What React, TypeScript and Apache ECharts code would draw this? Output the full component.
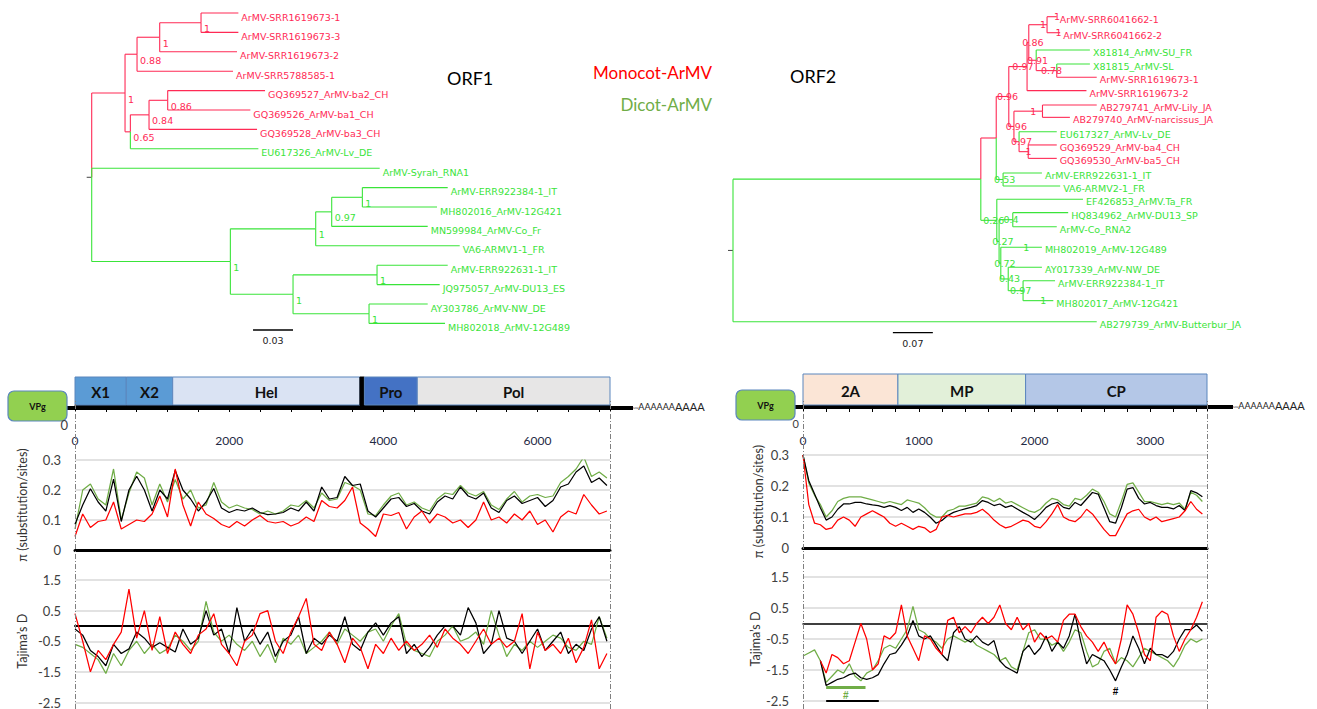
import React, { useEffect, useRef } from 'react';
import * as echarts from 'echarts';

// ---------------- colours ----------------
const TREE_RED = '#ff2a55';
const TREE_GREEN = '#3ae43a';
const LINE_BLACK = '#000000';
const LINE_GREEN = '#70ad47';
const LINE_RED = '#ff0000';

// ---------------- ORF1 tree: [name, parent, depth(subst/site), clade, support] ----------------
const orf1Nodes: [string, string, number, string, string][] = [
  ['root', '', 0, 'g', ''],
  ['A', 'root', 0.025, 'r', '1'],
  ['B', 'A', 0.034, 'r', '0.88'],
  ['C', 'B', 0.051, 'r', '1'],
  ['D', 'C', 0.082, 'r', '1'],
  ['ArMV-SRR1619673-1', 'D', 0.110, 'r', ''],
  ['ArMV-SRR1619673-3', 'D', 0.110, 'r', ''],
  ['ArMV-SRR1619673-2', 'C', 0.109, 'r', ''],
  ['ArMV-SRR5788585-1', 'B', 0.106, 'r', ''],
  ['E', 'A', 0.029, 'r', '0.65'],
  ['F', 'E', 0.043, 'r', '0.84'],
  ['G', 'F', 0.057, 'r', '0.86'],
  ['GQ369527_ArMV-ba2_CH', 'G', 0.130, 'r', ''],
  ['GQ369526_ArMV-ba1_CH', 'G', 0.119, 'r', ''],
  ['GQ369528_ArMV-ba3_CH', 'F', 0.124, 'r', ''],
  ['EU617326_ArMV-Lv_DE', 'E', 0.125, 'g', ''],
  ['ArMV-Syrah_RNA1', 'root', 0.216, 'g', ''],
  ['H', 'root', 0.104, 'g', '1'],
  ['I', 'H', 0.168, 'g', '1'],
  ['J', 'I', 0.180, 'g', '0.97'],
  ['K', 'J', 0.203, 'g', '1'],
  ['ArMV-ERR922384-1_IT', 'K', 0.267, 'g', ''],
  ['MH802016_ArMV-12G421', 'K', 0.259, 'g', ''],
  ['MN599984_ArMV-Co_Fr', 'J', 0.252, 'g', ''],
  ['VA6-ARMV1-1_FR', 'I', 0.276, 'g', ''],
  ['L', 'H', 0.151, 'g', '1'],
  ['M', 'L', 0.214, 'g', '1'],
  ['ArMV-ERR922631-1_IT', 'M', 0.267, 'g', ''],
  ['JQ975057_ArMV-DU13_ES', 'M', 0.261, 'g', ''],
  ['N', 'L', 0.208, 'g', '1'],
  ['AY303786_ArMV-NW_DE', 'N', 0.252, 'g', ''],
  ['MH802018_ArMV-12G489', 'N', 0.265, 'g', ''],
];
const orf1LeafRows = [0, 1, 2, 3, 4, 5, 6, 7, 8, 9, 10, 11, 12, 13, 14, 15, 16];
const orf1ScaleBar = { len: 0.03, label: '0.03' };

// ---------------- ORF2 tree ----------------
const orf2Nodes: [string, string, number, string, string][] = [
  ['root', '', 0, 'g', ''],
  ['P', 'root', 0.434, 'g', ''],
  ['R', 'P', 0.461, 'r', ''],
  ['S', 'R', 0.483, 'r', '0.96'],
  ['W', 'S', 0.515, 'r', '0.97'],
  ['Wa', 'W', 0.518, 'r', '0.86'],
  ['Y', 'Wa', 0.550, 'r', '1'],
  ['ArMV-SRR6041662-1', 'Y', 0.567, 'r', '1'],
  ['ArMV-SRR6041662-2', 'Y', 0.573, 'r', '1'],
  ['Z', 'Wa', 0.531, 'r', '0.91'],
  ['X81814_ArMV-SU_FR', 'Z', 0.625, 'g', ''],
  ['Z2', 'Z', 0.567, 'r', '0.78'],
  ['X81815_ArMV-SL', 'Z2', 0.625, 'g', ''],
  ['ArMV-SRR1619673-1', 'Z2', 0.637, 'r', ''],
  ['ArMV-SRR1619673-2', 'W', 0.619, 'r', ''],
  ['X', 'S', 0.492, 'r', '0.96'],
  ['AB', 'X', 0.542, 'r', '1'],
  ['AB279741_ArMV-Lily_JA', 'AB', 0.637, 'r', ''],
  ['AB279740_ArMV-narcissus_JA', 'AB', 0.590, 'r', ''],
  ['X2', 'X', 0.501, 'r', '0.97'],
  ['EU617327_ArMV-Lv_DE', 'X2', 0.567, 'g', ''],
  ['GQ', 'X2', 0.517, 'r', '1'],
  ['GQ369529_ArMV-ba4_CH', 'GQ', 0.567, 'r', ''],
  ['GQ369530_ArMV-ba5_CH', 'GQ', 0.567, 'r', ''],
  ['U', 'R', 0.473, 'g', '0.53'],
  ['ArMV-ERR922631-1_IT', 'U', 0.541, 'g', ''],
  ['VA6-ARMV2-1_FR', 'U', 0.573, 'g', ''],
  ['V', 'P', 0.462, 'g', '0.26'],
  ['EF426853_ArMV.Ta_FR', 'V', 0.613, 'g', ''],
  ['T0', 'V', 0.466, 'g', '0.27'],
  ['HQ', 'T0', 0.490, 'g', '0.4'],
  ['HQ834962_ArMV-DU13_SP', 'HQ', 0.587, 'g', ''],
  ['ArMV-Co_RNA2', 'HQ', 0.567, 'g', ''],
  ['T1', 'T0', 0.469, 'g', '0.72'],
  ['MH802019_ArMV-12G489', 'T1', 0.541, 'g', '1'],
  ['T2', 'T1', 0.482, 'g', '0.43'],
  ['AY017339_ArMV-NW_DE', 'T2', 0.541, 'g', ''],
  ['T3', 'T2', 0.508, 'g', '0.97'],
  ['ArMV-ERR922384-1_IT', 'T3', 0.564, 'g', ''],
  ['MH802017_ArMV-12G421', 'T3', 0.561, 'g', '1'],
  ['AB279739_ArMV-Butterbur_JA', 'root', 0.637, 'g', ''],
];
const orf2LeafRows = [0, 1.05, 2.18, 3.10, 3.97, 4.85, 5.79, 6.60, 7.54, 8.41, 9.29, 10.25, 11.10, 11.97, 12.85, 13.77, 15.12, 16.43, 17.31, 18.62, 20.0];
const orf2ScaleBar = { len: 0.07, label: '0.07' };

// ---------------- genome maps ----------------
const orf1Length = 6940;
const orf1Domains = ['X1', 'X2', 'Hel', '', 'Pro', 'Pol'];
const orf1DomStart = [0, 665, 1267, 3696, 3754, 4440];
const orf1DomEnd = [665, 1267, 3696, 3754, 4440, 6940];
const orf1DomFill = ['#5b9bd5', '#5b9bd5', '#dae3f3', '#000000', '#4472c4', '#e7e6e6'];

const orf2Length = 3490;
const orf2Domains = ['2A', 'MP', 'CP'];
const orf2DomStart = [0, 820, 1923];
const orf2DomEnd = [820, 1923, 3490];
const orf2DomFill = ['#fbe5d6', '#e2f0d9', '#b4c7e7'];

// ---------------- sliding window values ----------------
const orf1Step = 100;
const orf1PiBlack = [
  0.086, 0.15, 0.204, 0.16, 0.13, 0.236, 0.095, 0.2, 0.246, 0.2,
  0.13, 0.2, 0.17, 0.265, 0.2, 0.17, 0.13, 0.16, 0.205, 0.14,
  0.125, 0.135, 0.13, 0.14, 0.125, 0.118, 0.12, 0.125, 0.14, 0.13,
  0.16, 0.13, 0.21, 0.17, 0.175, 0.245, 0.215, 0.22, 0.13, 0.11,
  0.14, 0.17, 0.175, 0.145, 0.155, 0.13, 0.12, 0.16, 0.18, 0.17,
  0.21, 0.18, 0.17, 0.19, 0.14, 0.125, 0.165, 0.18, 0.155, 0.165,
  0.175, 0.145, 0.165, 0.21, 0.22, 0.26, 0.28, 0.225, 0.24, 0.215,
];
const orf1PiGreen = [
  0.07, 0.2, 0.22, 0.17, 0.15, 0.27, 0.1, 0.19, 0.26, 0.24,
  0.15, 0.22, 0.16, 0.235, 0.17, 0.2, 0.14, 0.15, 0.225, 0.16,
  0.14, 0.15, 0.14, 0.135, 0.12, 0.13, 0.12, 0.13, 0.15, 0.145,
  0.165, 0.14, 0.19, 0.165, 0.17, 0.225, 0.215, 0.2, 0.12, 0.115,
  0.15, 0.18, 0.19, 0.15, 0.16, 0.14, 0.13, 0.17, 0.19, 0.185,
  0.215, 0.19, 0.18, 0.195, 0.15, 0.135, 0.17, 0.195, 0.16, 0.18,
  0.185, 0.175, 0.18, 0.225, 0.245, 0.27, 0.31, 0.245, 0.26, 0.24,
];
const orf1PiRed = [
  0.045, 0.12, 0.075, 0.095, 0.1, 0.16, 0.07, 0.085, 0.1, 0.095,
  0.12, 0.18, 0.11, 0.27, 0.15, 0.08, 0.16, 0.12, 0.105, 0.085,
  0.075, 0.095, 0.08, 0.1, 0.115, 0.095, 0.09, 0.095, 0.08, 0.09,
  0.11, 0.095, 0.165, 0.145, 0.14, 0.165, 0.21, 0.09, 0.07, 0.045,
  0.12, 0.115, 0.125, 0.07, 0.11, 0.13, 0.09, 0.12, 0.11, 0.09,
  0.1, 0.075, 0.1, 0.16, 0.1, 0.11, 0.09, 0.12, 0.1, 0.13,
  0.085, 0.1, 0.06, 0.11, 0.13, 0.12, 0.185, 0.15, 0.12, 0.13,
];
const orf1TajBlack = [
  -0.1, -0.3, -0.8, -1.0, -1.3, -0.6, -0.9, -0.75, -0.2, -0.4,
  -0.7, -0.55, -0.7, -0.85, -0.1, -0.6, -0.4, 0.5, -0.3, -0.1,
  -0.9, 0.6, -0.5, -0.1, -0.6, -0.2, -1.0, -0.5, -0.3, 0.3,
  -0.9, -0.4, -0.6, -0.3, -0.5, 0.3, -0.6, -0.8, -0.2, 0.1,
  -0.3, 0.1, 0.3, -0.9, -0.6, -1.0, -0.7, -0.3, 0.0, 0.0,
  -0.3, 0.6, 0.1, -0.9, -0.6, 0.5, -0.4, -0.5, -0.9, -0.5,
  -0.1, -0.8, -0.5, -0.2, -0.9, -0.6, -0.8, -0.1, 0.3, -0.5,
];
const orf1TajGreen = [
  -0.6, -0.7, -0.9, -1.1, -1.55, -0.9, -1.3, -0.8, -0.5, -0.9,
  -0.6, -0.9, -0.75, -0.3, -0.5, -0.8, -0.5, 0.8, -0.2, -0.5,
  -0.3, -0.6, -0.8, -0.5, -1.0, -0.6, -1.2, -0.4, -0.6, -0.3,
  -0.9, -0.7, -0.5, -0.2, -0.6, -0.1, -0.3, -0.5, -0.2, -0.1,
  -0.5, 0.0, 0.4, -0.6, -0.8, -0.9, -1.0, -0.5, -0.3, 0.0,
  -0.5, -0.4, -0.2, -0.6, 0.5, -0.3, -1.0, -0.6, -0.8, -0.5,
  -0.7, -0.5, -0.3, -0.4, -0.7, -0.8, -0.5, -0.6, 0.3, -0.4,
];
const orf1TajRed = [
  0.4, -0.5, -1.5, -0.8, -1.1, -0.6, -0.2, 1.2, -0.4, 0.5,
  -0.8, 0.3, -0.9, -0.2, -0.6, -0.9, -0.3, -0.1, 0.4, -0.6,
  -0.9, -1.3, -0.5, -0.3, 0.4, 0.5, -0.5, -0.9, -0.2, 0.3,
  0.9, -0.6, -0.8, -0.2, -0.6, -1.2, -0.4, -0.7, -1.4, -0.6,
  -0.9, -0.4, -0.8, -0.5, -0.8, -0.6, -0.3, -0.7, -0.1, -0.4,
  -0.6, -0.9, -0.5, -0.1, -0.6, -0.4, -0.7, -0.5, 0.4, -1.4,
  -0.2, -0.8, -0.6, -0.9, -0.4, -1.2, -0.7, 0.2, -1.4, -0.9,
];

const orf2Step = 50;
const orf2PiBlack = [
  0.3, 0.217, 0.174, 0.13, 0.09, 0.1, 0.125, 0.142, 0.142, 0.147,
  0.147, 0.142, 0.139, 0.137, 0.131, 0.137, 0.131, 0.121, 0.131, 0.115,
  0.126, 0.115, 0.099, 0.08, 0.089, 0.105, 0.115, 0.121, 0.126, 0.131,
  0.137, 0.153, 0.147, 0.137, 0.142, 0.131, 0.137, 0.126, 0.115, 0.105,
  0.092, 0.11, 0.131, 0.142, 0.147, 0.131, 0.126, 0.147, 0.137, 0.158,
  0.179, 0.174, 0.13, 0.085, 0.08, 0.13, 0.19, 0.195, 0.16, 0.142,
  0.147, 0.137, 0.131, 0.131, 0.126, 0.137, 0.121, 0.185, 0.178, 0.165,
];
const orf2PiGreen = [
  0.3, 0.21, 0.17, 0.14, 0.1, 0.12, 0.15, 0.16, 0.165, 0.165,
  0.165, 0.16, 0.155, 0.15, 0.145, 0.15, 0.145, 0.14, 0.155, 0.15,
  0.145, 0.13, 0.11, 0.1, 0.1, 0.12, 0.125, 0.135, 0.135, 0.14,
  0.145, 0.165, 0.16, 0.15, 0.16, 0.145, 0.15, 0.14, 0.13, 0.12,
  0.115, 0.125, 0.145, 0.16, 0.155, 0.14, 0.135, 0.16, 0.155, 0.17,
  0.19, 0.18, 0.15, 0.11, 0.1, 0.15, 0.205, 0.21, 0.18, 0.15,
  0.15, 0.145, 0.14, 0.145, 0.14, 0.145, 0.125, 0.18, 0.17, 0.15,
];
const orf2PiRed = [
  0.3, 0.14, 0.08, 0.075, 0.06, 0.065, 0.09, 0.1, 0.09, 0.07,
  0.1, 0.11, 0.12, 0.11, 0.1, 0.08, 0.07, 0.08, 0.07, 0.06,
  0.07, 0.065, 0.05, 0.06, 0.1, 0.105, 0.1, 0.105, 0.11, 0.11,
  0.115, 0.125, 0.11, 0.09, 0.075, 0.065, 0.07, 0.08, 0.09, 0.085,
  0.07, 0.065, 0.085, 0.11, 0.14, 0.1, 0.09, 0.085, 0.1, 0.125,
  0.11, 0.085, 0.06, 0.04, 0.04, 0.075, 0.11, 0.12, 0.125, 0.1,
  0.09, 0.1, 0.085, 0.09, 0.095, 0.1, 0.12, 0.15, 0.125, 0.11,
];
const orf2TajBlack = [
  null, null, null, -1.2, -2.0, -1.9, -1.8, -1.75, -1.65, -1.6,
  -1.75, -1.8, -1.75, -1.65, -1.3, -1.0, -0.95, -0.7, -0.4, 0.1,
  -0.4, -0.5, -0.4, -0.7, -1.0, -1.2, -0.3, -0.1, -0.5, -0.6,
  -0.4, -0.6, -0.7, -0.55, -1.2, -1.4, -1.5, -1.6, -0.9, -0.7,
  -1.0, -0.8, -0.4, -0.9, -0.6, -0.8, -0.4, 0.3, -0.6, -1.3,
  -1.0, -1.1, -1.2, -1.5, -1.85, -1.4, -1.0, -0.4, -0.8, -1.3,
  -0.8, -1.0, -1.0, -1.1, -0.9, -0.5, -0.2, -0.2, -0.05, -0.25,
];
const orf2TajGreen = [
  -1.05, -0.95, -0.85, -1.2, -1.9, -1.7, -1.5, -1.6, -1.3, -1.7,
  -1.85, -1.6, -1.5, -1.2, -0.8, -0.7, -0.8, -0.5, -0.2, 0.55,
  -0.2, -0.3, -0.5, -0.6, -0.8, -0.5, -0.4, -0.5, -0.6, -0.5,
  -0.7, -0.8, -0.9, -1.0, -1.2, -1.1, -1.4, -1.5, -0.9, -0.3,
  -0.2, -0.5, -0.5, -0.7, -0.6, -0.9, -0.6, -0.2, -0.3, -0.9,
  -1.4, -1.3, -0.9, -0.8, -1.3, -1.1, -1.2, -1.4, -1.1, -0.8,
  -0.9, -1.0, -1.1, -1.2, -1.4, -1.1, -0.7, -0.5, -0.6, -0.5,
];
const orf2TajRed = [
  null, null, null, -1.2, -1.6, -1.0, -1.1, -1.3, -1.2, -0.6,
  0.0, -0.5, -1.5, -1.3, -0.4, -0.5, -0.3, 0.6, -0.4, -0.8,
  -1.2, -0.4, -0.5, -0.8, -1.0, 0.1, 0.2, -0.3, -0.1, -0.3,
  0.0, 0.2, 0.0, 0.2, 0.6, 0.0, -0.2, 0.2, -0.2, 0.0,
  -0.6, -0.3, -0.5, -0.4, -0.6, 0.1, 0.3, 0.3, -0.1, -0.4,
  -0.6, -0.9, -0.6, -1.0, -1.3, -0.5, 0.6, 0.3, -0.3, -1.0,
  -1.2, 0.2, 0.4, 0.3, -0.4, -0.9, -0.5, -0.2, 0.2, 0.7,
];
// significance bars (#) on ORF2 Tajima's D
const orf2SigGreen = { from: 200, to: 540, level: -2.05 };
const orf2SigBlack = { from: 200, to: 655, level: -2.5 };
const orf2SigBlackMark = { at: 2700, level: -2.2 };

// ---------------- helpers ----------------
type TNode = { name: string; leaf: boolean; root: boolean; depth: number; pDepth: number; y: number; pY: number; col: string; sup: string };

function layoutTree(nodes: [string, string, number, string, string][], leafRows: number[]): TNode[] {
  const idx = new Map<string, number>();
  nodes.forEach((n, i) => idx.set(n[0], i));
  const children: number[][] = nodes.map(() => []);
  nodes.forEach((n, i) => { if (n[1]) children[idx.get(n[1]) as number].push(i); });
  const y = new Array(nodes.length).fill(0);
  let k = 0;
  nodes.forEach((_, i) => { if (children[i].length === 0) y[i] = leafRows[k++]; });
  const calc = (i: number): number => {
    if (children[i].length === 0) return y[i];
    const ys = children[i].map(calc);
    y[i] = (ys[0] + ys[ys.length - 1]) / 2;
    return y[i];
  };
  calc(0);
  return nodes.map((n, i) => {
    const p = n[1] ? (idx.get(n[1]) as number) : i;
    return { name: n[0], leaf: children[i].length === 0, root: !n[1], depth: n[2], pDepth: nodes[p][2], y: y[i], pY: y[p], col: n[3], sup: n[4] };
  });
}

const TREE_FONT = '9.5px "DejaVu Sans"';

function txt(text: string, x: number, y: number, fill: string, font: string, align = 'left', valign = 'middle') {
  return { type: 'text', x, y, style: { text, fill, font, align, verticalAlign: valign, textAlign: align, textVerticalAlign: valign } };
}

function treeSeries(layout: TNode[], gi: number, mode: number) {
  return {
    type: 'custom', xAxisIndex: gi, yAxisIndex: gi, clip: false, silent: true, z: 5,
    data: layout.map((n) => [n.pDepth, n.depth, n.pY, n.y]),
    renderItem: (params: any, api: any) => {
      const n = layout[params.dataIndex];
      const col = n.col === 'r' ? TREE_RED : TREE_GREEN;
      const a = api.coord([api.value(0), api.value(2)]);
      const b = api.coord([api.value(0), api.value(3)]);
      const c = api.coord([api.value(1), api.value(3)]);
      const ch: any[] = [];
      if (n.root) {
        ch.push({ type: 'line', shape: { x1: c[0] - 5, y1: c[1], x2: c[0], y2: c[1] }, style: { stroke: '#444', lineWidth: 1 } });
        return { type: 'group', children: ch };
      }
      ch.push({ type: 'line', shape: { x1: a[0], y1: a[1], x2: b[0], y2: b[1] }, style: { stroke: col, lineWidth: 1.1 } });
      ch.push({ type: 'line', shape: { x1: b[0], y1: b[1], x2: c[0], y2: c[1] }, style: { stroke: col, lineWidth: 1.1 } });
      if (n.leaf) ch.push(txt(n.name, c[0] + 3, c[1] + (mode === 1 ? 4 : 2.5), col, TREE_FONT));
      if (n.sup) {
        if (mode === 1) ch.push(txt(n.sup, c[0] + 3, c[1] + 1, col, TREE_FONT, 'left', 'top'));
        else ch.push(txt(n.sup, (a[0] + c[0]) / 2 + 5, c[1], col, TREE_FONT, 'center', 'middle'));
      }
      return { type: 'group', children: ch };
    },
  };
}

function scaleSeries(gi: number, bar: { len: number; label: string }, x0: number, row: number) {
  return {
    type: 'custom', xAxisIndex: gi, yAxisIndex: gi, clip: false, silent: true,
    data: [[x0, row, bar.len]],
    renderItem: (_p: any, api: any) => {
      const s = api.coord([api.value(0), api.value(1)]);
      const e = api.coord([api.value(0) + api.value(2), api.value(1)]);
      return {
        type: 'group', children: [
          { type: 'line', shape: { x1: s[0], y1: s[1], x2: e[0], y2: e[1] }, style: { stroke: '#000', lineWidth: 1.3 } },
          txt(bar.label, (s[0] + e[0]) / 2, s[1] + 11, '#222', '9.5px "DejaVu Sans"', 'center', 'middle'),
        ],
      };
    },
  };
}

function domainSeries(gi: number, names: string[], starts: number[], ends: number[], fills: string[]) {
  return {
    type: 'custom', xAxisIndex: gi, yAxisIndex: gi, clip: false, silent: true, z: 4,
    data: names.map((_, i) => [starts[i], ends[i]]),
    renderItem: (params: any, api: any) => {
      const i = params.dataIndex;
      const p0 = api.coord([api.value(0), 1]);
      const p1 = api.coord([api.value(1), 0]);
      return {
        type: 'group', children: [
          { type: 'rect', shape: { x: p0[0], y: p0[1], width: p1[0] - p0[0], height: p1[1] - p0[1] }, style: { fill: fills[i], stroke: names[i] ? '#5b86bd' : '#000', lineWidth: 1 } },
          txt(names[i], (p0[0] + p1[0]) / 2, (p0[1] + p1[1]) / 2 + 1, '#111', 'bold 15px Lato', 'center', 'middle'),
        ],
      };
    },
  };
}

function lineSeries(vals: (number | null)[], step: number, color: string, gi: number, z: number, extra: any = {}) {
  return {
    type: 'line', xAxisIndex: gi, yAxisIndex: gi, silent: true, z,
    data: vals.map((v, i) => [i * step, v === null ? '-' : v]),
    symbol: 'none', showSymbol: false, connectNulls: false,
    lineStyle: { color, width: 1.25 }, itemStyle: { color },
    ...extra,
  };
}

function frameSeries(gi: number, len: number) {
  return {
    type: 'line', xAxisIndex: gi, yAxisIndex: gi, silent: true, data: [[0, 0]], symbol: 'none',
    lineStyle: { opacity: 0 },
    markLine: {
      silent: true, symbol: ['none', 'none'], label: { show: false },
      lineStyle: { type: [5, 2, 1, 2], color: '#808080', width: 1 },
      data: [{ xAxis: 0 }, { xAxis: len }],
    },
  };
}

const AXIS_TXT = { fontFamily: 'Lato', fontSize: 13, color: '#404040' };

function buildOption() {
  const t1 = layoutTree(orf1Nodes, orf1LeafRows);
  const t2 = layoutTree(orf2Nodes, orf2LeafRows);

  const grids = [
    { left: 91.7, top: 13, width: 400, height: 310.4 }, // 0 tree1
    { left: 733, top: 16.7, width: 399.7, height: 305 }, // 1 tree2
    { left: 75, top: 377, width: 535, height: 28 }, // 2 mapL
    { left: 75, top: 460, width: 535, height: 90 }, // 3 piL
    { left: 75, top: 580, width: 535, height: 123 }, // 4 tajL
    { left: 75, top: 400, width: 535, height: 309 }, // 5 frameL
    { left: 803, top: 374, width: 404, height: 31 }, // 6 mapR
    { left: 803, top: 455, width: 404, height: 93 }, // 7 piR
    { left: 803, top: 577, width: 404, height: 124 }, // 8 tajR
    { left: 803, top: 400, width: 404, height: 309 }, // 9 frameR
  ];

  const hidden = (gi: number, min: number, max: number, inverse = false) => ({ type: 'value', gridIndex: gi, min, max, inverse, show: false });
  const mapAxis = (gi: number, len: number, interval: number, labelEvery: number) => ({
    type: 'value', gridIndex: gi, min: 0, max: len, interval, position: 'bottom', offset: 20,
    axisLine: { show: true, lineStyle: { color: '#000', width: 1 } },
    axisTick: { show: true, length: 7, lineStyle: { color: '#000', width: 1 } },
    axisLabel: { formatter: (v: number) => (v % labelEvery === 0 ? String(v) : ''), fontFamily: 'Lato', fontSize: 12, color: '#1f2a44', margin: 9 },
    splitLine: { show: false },
  });
  const lineAxis = (gi: number, len: number, width: number, onZero: boolean) => ({
    type: 'value', gridIndex: gi, min: 0, max: len,
    axisLine: { show: true, onZero, lineStyle: { color: '#000', width } },
    axisTick: { show: false }, axisLabel: { show: false }, splitLine: { show: false },
  });
  const piY = (gi: number, gap: number) => ({
    type: 'value', gridIndex: gi, min: 0, max: 0.3, interval: 0.1,
    name: 'π (substitution/sites)', nameLocation: 'middle', nameRotate: 90, nameGap: gap,
    nameTextStyle: { fontFamily: 'Lato', fontSize: 12.5, color: '#333' },
    axisLine: { show: false }, axisTick: { show: false },
    axisLabel: { ...AXIS_TXT, margin: 14, formatter: (v: number) => (Math.abs(v) < 1e-9 ? '0' : (Math.round(v * 10) / 10).toFixed(1)) },
    splitLine: { show: true, lineStyle: { color: '#d9d9d9', width: 1.5 } },
  });
  const tajY = (gi: number, gap: number) => ({
    type: 'value', gridIndex: gi, min: -2.5, max: 1.5, interval: 1,
    name: 'Tajima’s D', nameLocation: 'middle', nameRotate: 90, nameGap: gap,
    nameTextStyle: { fontFamily: 'Lato', fontSize: 12.5, color: '#333' },
    axisLine: { show: false }, axisTick: { show: false },
    axisLabel: { ...AXIS_TXT, margin: 14, formatter: (v: number) => (Math.round(v * 10) / 10).toFixed(1) },
    splitLine: { show: true, lineStyle: { color: '#d9d9d9', width: 1.5 } },
  });

  const xAxis = [
    hidden(0, 0, 0.3), hidden(1, 0, 0.7),
    mapAxis(2, orf1Length, 400, 2000), lineAxis(3, orf1Length, 3, false), lineAxis(4, orf1Length, 2, true), hidden(5, 0, orf1Length),
    mapAxis(6, orf2Length, 200, 1000), lineAxis(7, orf2Length, 3, false), lineAxis(8, orf2Length, 1.5, true), hidden(9, 0, orf2Length),
  ];
  const yAxis = [
    hidden(0, 0, 16, true), hidden(1, 0, 20, true),
    hidden(2, 0, 1), piY(3, 46), tajY(4, 46), hidden(5, 0, 1),
    hidden(6, 0, 1), piY(7, 38), tajY(8, 38), hidden(9, 0, 1),
  ];

  const series: any[] = [
    treeSeries(t1, 0, 1),
    treeSeries(t2, 1, 2),
    scaleSeries(0, orf1ScaleBar, 0.121, 16.34),
    scaleSeries(1, orf2ScaleBar, 0.28, 20.72),
    domainSeries(2, orf1Domains, orf1DomStart, orf1DomEnd, orf1DomFill),
    domainSeries(6, orf2Domains, orf2DomStart, orf2DomEnd, orf2DomFill),
    frameSeries(5, orf1Length),
    frameSeries(9, orf2Length),
    lineSeries(orf1PiGreen, orf1Step, LINE_GREEN, 3, 2),
    lineSeries(orf1PiBlack, orf1Step, LINE_BLACK, 3, 3),
    lineSeries(orf1PiRed, orf1Step, LINE_RED, 3, 4),
    lineSeries(orf1TajGreen, orf1Step, LINE_GREEN, 4, 2),
    lineSeries(orf1TajBlack, orf1Step, LINE_BLACK, 4, 3),
    lineSeries(orf1TajRed, orf1Step, LINE_RED, 4, 4),
    lineSeries(orf2PiGreen, orf2Step, LINE_GREEN, 7, 2),
    lineSeries(orf2PiBlack, orf2Step, LINE_BLACK, 7, 3),
    lineSeries(orf2PiRed, orf2Step, LINE_RED, 7, 4),
    lineSeries(orf2TajGreen, orf2Step, LINE_GREEN, 8, 2, {
      markLine: {
        silent: true, symbol: ['none', 'none'], label: { show: false },
        lineStyle: { color: LINE_GREEN, width: 3, type: 'solid' },
        data: [[{ coord: [orf2SigGreen.from, orf2SigGreen.level] }, { coord: [orf2SigGreen.to, orf2SigGreen.level] }]],
      },
      markPoint: {
        silent: true, symbol: 'rect', symbolSize: 1, itemStyle: { color: 'rgba(0,0,0,0)' },
        label: { show: true, formatter: '#', color: LINE_GREEN, fontSize: 10, fontWeight: 'bold', position: 'inside' },
        data: [{ coord: [(orf2SigGreen.from + orf2SigGreen.to) / 2, orf2SigGreen.level - 0.28] }],
      },
    }),
    lineSeries(orf2TajBlack, orf2Step, LINE_BLACK, 8, 3, {
      markLine: {
        silent: true, symbol: ['none', 'none'], label: { show: false },
        lineStyle: { color: '#000', width: 2, type: 'solid' },
        data: [[{ coord: [orf2SigBlack.from, orf2SigBlack.level] }, { coord: [orf2SigBlack.to, orf2SigBlack.level] }]],
      },
      markPoint: {
        silent: true, symbol: 'rect', symbolSize: 1, itemStyle: { color: 'rgba(0,0,0,0)' },
        label: { show: true, formatter: '#', color: '#000', fontSize: 10, fontWeight: 'bold', position: 'inside' },
        data: [{ coord: [orf2SigBlackMark.at, orf2SigBlackMark.level] }],
      },
    }),
    lineSeries(orf2TajRed, orf2Step, LINE_RED, 8, 4),
  ];

  const vpg = (x: number, y: number) => ({
    type: 'group', children: [
      { type: 'rect', shape: { x, y, width: 59, height: 30, r: 6 }, style: { fill: '#92d050', stroke: '#5b86bd', lineWidth: 1.2 } },
      { type: 'text', x: x + 29.5, y: y + 15, style: { text: 'VPg', font: 'bold 9px Lato', fill: '#111', align: 'center', verticalAlign: 'middle', textAlign: 'center', textVerticalAlign: 'middle' } },
    ],
  });
  const polyA = (x: number, y: number) => ({
    type: 'text', x, y,
    style: { text: '{a|ᵤᵤ}{b|AAAAAA}{c|AAAA}', rich: { a: { fontSize: 7, fill: '#333' }, b: { fontSize: 9, fill: '#222', fontFamily: 'Lato' }, c: { fontSize: 11, fill: '#222', fontFamily: 'Lato' } }, verticalAlign: 'middle', textVerticalAlign: 'middle' },
  });

  const graphic = [
    { type: 'line', shape: { x1: 66, y1: 408, x2: 633, y2: 408 }, style: { stroke: '#000', lineWidth: 4 } },
    { type: 'line', shape: { x1: 794, y1: 407, x2: 1233, y2: 407 }, style: { stroke: '#000', lineWidth: 4 } },
    vpg(8, 391),
    vpg(736, 390),
    polyA(633, 406),
    polyA(1233, 405),
    txt('0', 68, 425, '#404040', '13px Lato', 'right', 'middle'),
    txt('0', 799, 423, '#404040', '11px Lato', 'right', 'middle'),
    txt('ORF1', 447, 78, '#000', '18px Lato', 'left', 'middle'),
    txt('ORF2', 790, 76, '#000', '18px Lato', 'left', 'middle'),
    txt('Monocot-ArMV', 712, 72, '#ff0000', '17px Lato', 'right', 'middle'),
    txt('Dicot-ArMV', 712, 104, LINE_GREEN, '17px Lato', 'right', 'middle'),
  ];

  return { animation: false, backgroundColor: '#fff', grid: grids, xAxis, yAxis, series, graphic };
}

export default function App() {
  const ref = useRef<HTMLDivElement>(null);
  useEffect(() => {
    if (!ref.current) return;
    const chart = echarts.init(ref.current, undefined, { renderer: 'svg' });
    chart.setOption(buildOption() as any);
    return () => chart.dispose();
  }, []);
  return <div ref={ref} style={{ position: 'absolute', left: 0, top: 0, width: 1317, height: 709, background: '#fff' }} />;
}
